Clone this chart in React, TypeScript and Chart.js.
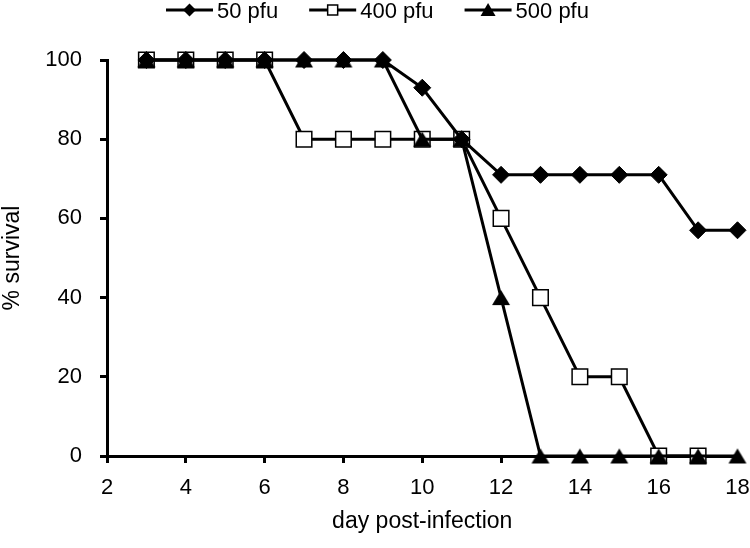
import React, { useEffect, useRef } from 'react';
import { Chart, registerables } from 'chart.js';

Chart.register(...registerables);

const days = [3, 4, 5, 6, 7, 8, 9, 10, 11, 12, 13, 14, 15, 16, 17, 18];
const pfu50 = [100, 100, 100, 100, 100, 100, 100, 93, 80, 71, 71, 71, 71, 71, 57, 57];
const pfu400 = [100, 100, 100, 100, 80, 80, 80, 80, 80, 60, 40, 20, 20, 0, 0, null];
const pfu500 = [100, 100, 100, 100, 100, 100, 100, 80, 80, 40, 0, 0, 0, 0, 0, 0];
const seriesLabels = ['50 pfu', '400 pfu', '500 pfu'];
const xTicks = [2, 4, 6, 8, 10, 12, 14, 16, 18];
const yTicks = [0, 20, 40, 60, 80, 100];

const FONT = '"Liberation Sans", Arial, sans-serif';

function makeTriangle(w: number, h: number): HTMLCanvasElement {
  const c = document.createElement('canvas');
  c.width = w + 2;
  c.height = h + 2;
  const g = c.getContext('2d')!;
  g.fillStyle = '#000';
  g.beginPath();
  g.moveTo(c.width / 2, 1);
  g.lineTo(c.width - 1, h + 1);
  g.lineTo(1, h + 1);
  g.closePath();
  g.fill();
  return c;
}

const legendPlugin = {
  id: 'customLegend',
  afterDraw(chart: any) {
    const ctx = chart.ctx as CanvasRenderingContext2D;
    ctx.save();
    ctx.font = `22px ${FONT}`;
    ctx.fillStyle = '#000';
    ctx.strokeStyle = '#000';
    ctx.textBaseline = 'alphabetic';
    const y = 10;
    let x = 166;
    const iconW = 47;
    seriesLabels.forEach((label, i) => {
      ctx.lineWidth = 3;
      ctx.beginPath();
      ctx.moveTo(x, y);
      ctx.lineTo(x + iconW, y);
      ctx.stroke();
      const cx = x + iconW / 2;
      if (i === 0) {
        const r = 6.5;
        ctx.beginPath();
        ctx.moveTo(cx, y - r);
        ctx.lineTo(cx + r, y);
        ctx.lineTo(cx, y + r);
        ctx.lineTo(cx - r, y);
        ctx.closePath();
        ctx.fill();
      } else if (i === 1) {
        const s = 10;
        ctx.fillStyle = '#fff';
        ctx.fillRect(cx - s / 2, y - s / 2, s, s);
        ctx.fillStyle = '#000';
        ctx.lineWidth = 1.5;
        ctx.strokeRect(cx - s / 2, y - s / 2, s, s);
      } else {
        const w = 15, h = 12;
        ctx.beginPath();
        ctx.moveTo(cx, y - h / 2 - 1);
        ctx.lineTo(cx + w / 2, y + h / 2);
        ctx.lineTo(cx - w / 2, y + h / 2);
        ctx.closePath();
        ctx.fill();
      }
      const tx = x + iconW + 4;
      ctx.textAlign = 'left';
      ctx.fillText(label, tx, 17.5);
      const tw = ctx.measureText(label).width;
      x = tx + tw + 31;
    });
    ctx.restore();
  },
};

export default function App() {
  const ref = useRef<HTMLCanvasElement | null>(null);

  useEffect(() => {
    if (!ref.current) return;
    const tri = makeTriangle(18, 15);
    const tickFont = { family: FONT, size: 22 };
    const chart = new Chart(ref.current, {
      type: 'line',
      data: {
        labels: days,
        datasets: [
          {
            label: seriesLabels[0],
            data: days.map((d, i) => ({ x: d, y: pfu50[i] })),
            borderColor: '#000',
            borderWidth: 3,
            pointStyle: 'rectRot',
            pointRadius: 8.5,
            pointBackgroundColor: '#000',
            pointBorderColor: '#000',
            pointBorderWidth: 1,
            tension: 0,
            clip: false,
            order: 2,
          } as any,
          {
            label: seriesLabels[1],
            data: days.map((d, i) => ({ x: d, y: pfu400[i] })),
            borderColor: '#000',
            borderWidth: 3,
            pointStyle: 'rect',
            pointRadius: 11,
            pointBackgroundColor: '#fff',
            pointBorderColor: '#000',
            pointBorderWidth: 1.5,
            tension: 0,
            spanGaps: false,
            clip: false,
            order: 3,
          } as any,
          {
            label: seriesLabels[2],
            data: days.map((d, i) => ({ x: d, y: pfu500[i] })),
            borderColor: '#000',
            borderWidth: 3,
            pointStyle: tri,
            pointRadius: 9,
            pointBackgroundColor: '#000',
            pointBorderColor: '#000',
            tension: 0,
            clip: false,
            order: 1,
          } as any,
        ],
      },
      options: {
        animation: false,
        responsive: true,
        maintainAspectRatio: false,
        layout: { padding: { top: 60, right: 0, bottom: 0, left: 0 } },
        plugins: {
          legend: { display: false },
          tooltip: { enabled: false },
        },
        scales: {
          x: {
            type: 'linear',
            min: 2,
            max: 18,
            afterBuildTicks: (scale: any) => {
              scale.ticks = xTicks.map((v) => ({ value: v }));
            },
            afterFit: (scale: any) => {
              scale.height = 92;
              scale.paddingRight = 12;
              scale.paddingLeft = 0;
            },
            ticks: {
              color: '#000',
              font: tickFont,
              padding: 12,
              maxRotation: 0,
              autoSkip: false,
            },
            grid: {
              drawOnChartArea: false,
              drawTicks: true,
              tickLength: 7,
              color: '#000',
              lineWidth: 3,
            },
            border: { color: '#000', width: 3 },
            title: {
              display: true,
              text: 'day post-infection',
              color: '#000',
              font: { family: FONT, size: 23 },
              padding: { top: 0, bottom: 13 },
            },
          },
          y: {
            min: 0,
            max: 100,
            afterBuildTicks: (scale: any) => {
              scale.ticks = yTicks.map((v) => ({ value: v }));
            },
            afterFit: (scale: any) => {
              scale.width = 107;
            },
            ticks: {
              color: '#000',
              font: tickFont,
              padding: 18,
              autoSkip: false,
            },
            grid: {
              drawOnChartArea: false,
              drawTicks: true,
              tickLength: 7,
              color: '#000',
              lineWidth: 3,
            },
            border: { color: '#000', width: 3 },
            title: {
              display: true,
              text: '% survival',
              color: '#000',
              font: { family: FONT, size: 23 },
              padding: { top: -1.5, bottom: 0 },
            },
          },
        },
      },
      plugins: [legendPlugin],
    } as any);
    return () => chart.destroy();
  }, []);

  return (
    <div style={{ position: 'fixed', left: 0, top: 0, width: 750, height: 548, background: '#fff' }}>
      <canvas ref={ref} />
    </div>
  );
}
